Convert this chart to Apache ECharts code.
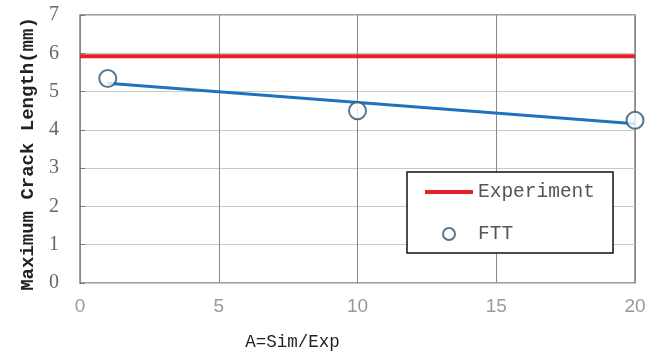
<!DOCTYPE html>
<html><head><meta charset="utf-8">
<script src="https://cdn.jsdelivr.net/npm/echarts@6/dist/echarts.min.js"></script>
<style>html,body{margin:0;padding:0;background:#fff}#c{width:660px;height:356px}</style>
</head><body><div id="c"></div>
<script>
var xTicks = [0, 5, 10, 15, 20];
var experimentX = [0, 20];
var experimentY = [5.92, 5.92];
var fttX = [1, 10, 20];
var fttY = [5.34, 4.5, 4.25];
var trendX = [1, 20];
var trendY = [5.22, 4.16];

function pairs(xs, ys){ return xs.map(function(x,i){ return [x, ys[i]]; }); }

var chart = echarts.init(document.getElementById('c'));
chart.setOption({
  animation: false,
  grid: {left: 80, right: 25, top: 15, bottom: 73, show: true, borderColor: '#808080', borderWidth: 1.5},
  xAxis: {
    type: 'value', min: 0, max: 20, interval: 5,
    name: 'A=Sim/Exp', nameLocation: 'middle', nameGap: 50,
    nameTextStyle: {fontFamily: 'Liberation Mono', fontSize: 17.5, color: '#222', padding: [0, 130, 0, 0]},
    axisLine: {show: false}, axisTick: {show: false},
    axisLabel: {color: '#999', fontSize: 19, margin: 14, fontFamily: 'Liberation Sans'},
    splitLine: {lineStyle: {color: '#888', width: 1}}
  },
  yAxis: {
    type: 'value', min: 0, max: 7, interval: 1,
    name: 'Maximum Crack Length(mm)', nameLocation: 'middle', nameGap: 41,
    nameTextStyle: {fontFamily: 'Liberation Mono', fontWeight: 'bold', fontSize: 19, color: '#222', padding: [0, 10, 0, 0]},
    axisLine: {show: false},
    axisTick: {show: true, inside: true, length: 5, lineStyle: {color: '#777'}},
    axisLabel: {color: '#666', fontSize: 20, margin: 21, fontFamily: 'Liberation Serif'},
    splitLine: {lineStyle: {color: '#c8c8c8', width: 1}}
  },
  legend: {
    orient: 'vertical', left: 407, top: 172,
    data: [
      {name: 'Experiment', icon: 'path://M0,0 L48,0 L48,4 L0,4 Z'},
      {name: 'FTT'}
    ],
    backgroundColor: '#fff', borderColor: '#111', borderWidth: 1.5,
    padding: [10, 18, 9, 18],
    itemWidth: 48, itemHeight: 12, itemGap: 22,
    textStyle: {fontFamily: 'Liberation Mono', fontSize: 19.5, color: '#555'}
  },
  series: [
    {name: 'Experiment', type: 'line', data: pairs(experimentX, experimentY),
     symbol: 'none', lineStyle: {color: '#e6202b', width: 4}, itemStyle: {color: '#e6202b'}, z: 3},
    {name: 'trend', type: 'line', data: pairs(trendX, trendY),
     symbol: 'none', lineStyle: {color: '#1f72c0', width: 3}, z: 4},
    {name: 'FTT', type: 'scatter', data: pairs(fttX, fttY),
     symbol: 'emptyCircle', symbolSize: 17,
     itemStyle: {color: '#2b5676', borderWidth: 2}, z: 5}
  ]
});
</script></body></html>
